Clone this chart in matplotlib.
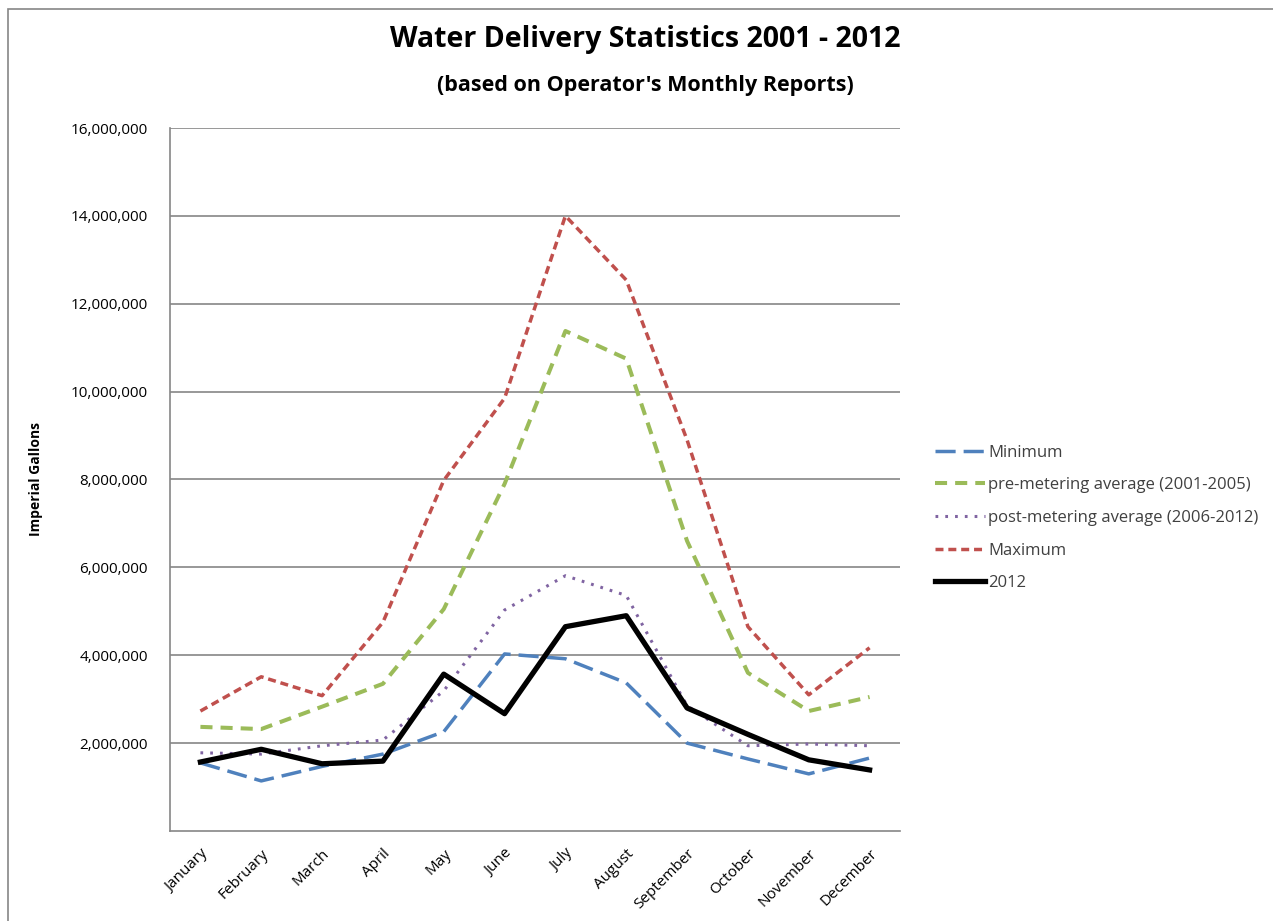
import numpy as np
import matplotlib
matplotlib.use("Agg")
import matplotlib.pyplot as plt
from matplotlib.patches import Rectangle
from matplotlib.ticker import FuncFormatter

months = ["January", "February", "March", "April", "May", "June", "July",
          "August", "September", "October", "November", "December"]

minimum = [1.55e6, 1.14e6, 1.47e6, 1.75e6, 2.26e6, 4.03e6, 3.92e6, 3.37e6, 2.0e6, 1.64e6, 1.3e6, 1.66e6]
pre_avg = [2.37e6, 2.32e6, 2.83e6, 3.35e6, 5.05e6, 7.9e6, 11.38e6, 10.75e6, 6.6e6, 3.6e6, 2.73e6, 3.05e6]
post_avg = [1.78e6, 1.75e6, 1.94e6, 2.07e6, 3.19e6, 5.03e6, 5.81e6, 5.36e6, 2.85e6, 1.94e6, 1.98e6, 1.94e6]
maximum = [2.73e6, 3.51e6, 3.08e6, 4.75e6, 7.98e6, 9.85e6, 14.0e6, 12.54e6, 8.9e6, 4.65e6, 3.1e6, 4.17e6]
y2012 = [1.57e6, 1.86e6, 1.53e6, 1.59e6, 3.57e6, 2.67e6, 4.65e6, 4.9e6, 2.8e6, 2.2e6, 1.62e6, 1.39e6]

plt.rcParams['font.family'] = ['Open Sans', 'DejaVu Sans']

W, H = 1273, 921
fig = plt.figure(figsize=(W / 100, H / 100), dpi=100)
# chart frame
fig.patches.append(Rectangle((8 / W, -0.01), 1.0, 1 - 9 / H + 0.01, transform=fig.transFigure,
                             fill=False, edgecolor="#868686", linewidth=1.2))
ax = fig.add_axes([170 / W, 90 / H, 730 / W, 703 / H])

x = np.arange(len(months))
ax.plot(x, minimum, color="#4F81BD", lw=2.5, dashes=(5.8, 2.3), label="Minimum")
ax.plot(x, pre_avg, color="#9BBB59", lw=2.9, dashes=(3, 2), label="pre-metering average (2001-2005)")
ax.plot(x, post_avg, color="#8064A2", lw=2.2, dashes=(0.9, 2.3), label="post-metering average (2006-2012)")
ax.plot(x, maximum, color="#C0504D", lw=2.5, dashes=(2.3, 1.4), label="Maximum")
ax.plot(x, y2012, color="black", lw=3.8, label="2012")

ax.set_xlim(-0.5, 11.5)
ax.set_ylim(0, 16e6)
ax.set_yticks(np.arange(2e6, 16.1e6, 2e6))
ax.yaxis.set_major_formatter(FuncFormatter(lambda v, p: f"{v:,.0f}"))
ax.grid(axis="y", color="#868686", lw=1.2)
ax.set_axisbelow(True)
for s in ["top", "right"]:
    ax.spines[s].set_visible(False)
for s in ["left", "bottom"]:
    ax.spines[s].set_color("#868686")
    ax.spines[s].set_linewidth(1.2)
ax.set_xticks(x)
ax.set_xticklabels(months, rotation=45, ha="right", rotation_mode="anchor")
ax.tick_params(axis="both", length=0, labelsize=11, colors="black")
ax.tick_params(axis="y", pad=16)
ax.tick_params(axis="x", pad=11)
ax.set_ylabel("Imperial Gallons", fontsize=10, fontweight="bold")
ax.yaxis.set_label_coords(-0.174, 0.5)

fig.text(645 / W, 1 - 40 / H, "Water Delivery Statistics 2001 - 2012", ha="center", va="center",
         fontsize=20.5, fontweight="bold")
fig.text(645 / W, 1 - 86 / H, "(based on Operator's Monthly Reports)", ha="center", va="center",
         fontsize=15.5, fontweight="bold")

leg = fig.legend(*ax.get_legend_handles_labels(), loc="center left",
                 bbox_to_anchor=(935 / W, 1 - 518 / H), bbox_transform=fig.transFigure,
                 frameon=False, fontsize=12, borderpad=0, borderaxespad=0,
                 handlelength=3.0, labelspacing=1.0, handletextpad=0.2)
for t in leg.get_texts():
    t.set_color("#404040")

fig.savefig("out.png", dpi=100)
